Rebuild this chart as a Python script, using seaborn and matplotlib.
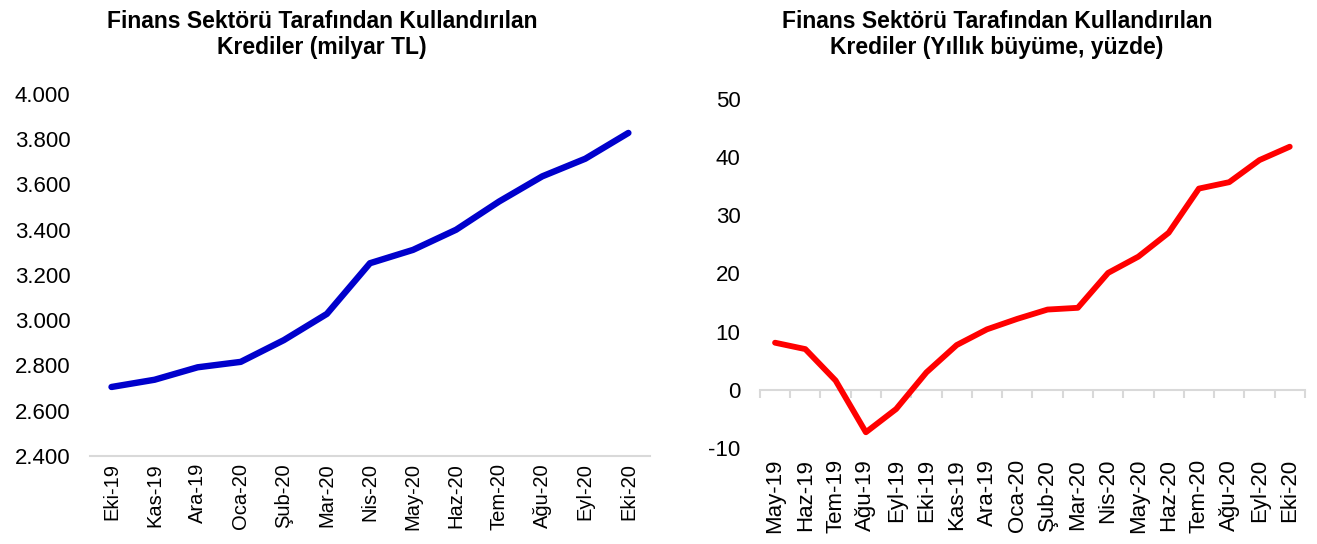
import numpy as np
import pandas as pd
import matplotlib
matplotlib.use("Agg")
import matplotlib.pyplot as plt
import seaborn as sns

# Left chart: credit stock (billion TL)
months_left = ['Eki-19', 'Kas-19', 'Ara-19', 'Oca-20', 'Şub-20', 'Mar-20', 'Nis-20',
               'May-20', 'Haz-20', 'Tem-20', 'Ağu-20', 'Eyl-20', 'Eki-20']
stock = [2705, 2737, 2792, 2816, 2912, 3028, 3252, 3311, 3400, 3525, 3636, 3714, 3828]
left_ticks = [2400, 2600, 2800, 3000, 3200, 3400, 3600, 3800, 4000]
left_ticklabels = ['2.400', '2.600', '2.800', '3.000', '3.200', '3.400', '3.600', '3.800', '4.000']

# Right chart: annual growth (%)
months_right = ['May-19', 'Haz-19', 'Tem-19', 'Ağu-19', 'Eyl-19', 'Eki-19', 'Kas-19', 'Ara-19',
                'Oca-20', 'Şub-20', 'Mar-20', 'Nis-20', 'May-20', 'Haz-20', 'Tem-20', 'Ağu-20',
                'Eyl-20', 'Eki-20']
growth = [8.1, 7.0, 1.6, -7.3, -3.3, 3.0, 7.7, 10.4, 12.2, 13.8, 14.1, 20.1, 22.9, 27.0,
          34.6, 35.7, 39.5, 41.8]
right_ticks = [-10, 0, 10, 20, 30, 40, 50]

sns.set_style("white")
plt.rcParams['font.family'] = ['Liberation Sans', 'DejaVu Sans']
plt.rcParams['text.color'] = 'black'
plt.rcParams['xtick.color'] = 'black'
plt.rcParams['ytick.color'] = 'black'
plt.rcParams['axes.unicode_minus'] = False

fig = plt.figure(figsize=(13.17, 5.44), dpi=100)
ax1 = fig.add_axes([0.0683, 0.1618, 0.4252, 0.6654])
ax2 = fig.add_axes([0.5770, 0.1765, 0.4138, 0.6415])

df_left = pd.DataFrame({'month': months_left, 'value': stock})
df_right = pd.DataFrame({'month': months_right, 'value': growth})

sns.lineplot(data=df_left, x='month', y='value', sort=False, color='#0000CC',
             linewidth=4.6, solid_capstyle='round', ax=ax1)
sns.lineplot(data=df_right, x='month', y='value', sort=False, color='#FF0000',
             linewidth=4.2, solid_capstyle='round', ax=ax2)

grey = '#D9D9D9'

# left axis styling
ax1.set_xlim(-0.5, len(months_left) - 0.5)
ax1.set_ylim(2400, 4000)
ax1.set_yticks(left_ticks)
ax1.set_yticklabels(left_ticklabels)
ax1.set_xticks(range(len(months_left)))
ax1.set_xticklabels(months_left, rotation=90)
for side in ['top', 'right', 'left']:
    ax1.spines[side].set_visible(False)
ax1.spines['bottom'].set_color(grey)
ax1.spines['bottom'].set_linewidth(1.5)
ax1.tick_params(axis='y', length=0, pad=14, labelsize=16)
ax1.tick_params(axis='x', length=0, pad=5, labelsize=14.5)
ax1.set_xlabel('')
ax1.set_ylabel('')

# right axis styling: labels at bottom, axis line at zero
ax2.set_xlim(-0.5, len(months_right) - 0.5)
ax2.set_ylim(-10, 50)
ax2.set_yticks(right_ticks)
ax2.set_xticks(range(len(months_right)))
ax2.set_xticklabels(months_right, rotation=90)
for side in ['top', 'right', 'left', 'bottom']:
    ax2.spines[side].set_visible(False)
ax2.tick_params(axis='y', length=0, pad=14, labelsize=16)
ax2.tick_params(axis='x', length=0, pad=8, labelsize=16)
ax2.set_xlabel('')
ax2.set_ylabel('')

zero_axis = ax2.secondary_xaxis(0, transform=ax2.transData)
zero_axis.set_xticks(np.arange(-0.5, len(months_right), 1.0))
zero_axis.set_xticklabels([])
zero_axis.tick_params(axis='x', length=6, width=1.5, color=grey, direction='out')
zero_axis.spines['bottom'].set_color(grey)
zero_axis.spines['bottom'].set_linewidth(1.5)

# titles
fig.text(0.2445, 0.982, 'Finans Sektörü Tarafından Kullandırılan\nKrediler (milyar TL)',
         ha='center', va='top', fontsize=16.5, fontweight='bold', linespacing=1.2)
fig.text(0.757, 0.982, 'Finans Sektörü Tarafından Kullandırılan\nKrediler (Yıllık büyüme, yüzde)',
         ha='center', va='top', fontsize=16.5, fontweight='bold', linespacing=1.2)

fig.savefig('out.png', dpi=100)
